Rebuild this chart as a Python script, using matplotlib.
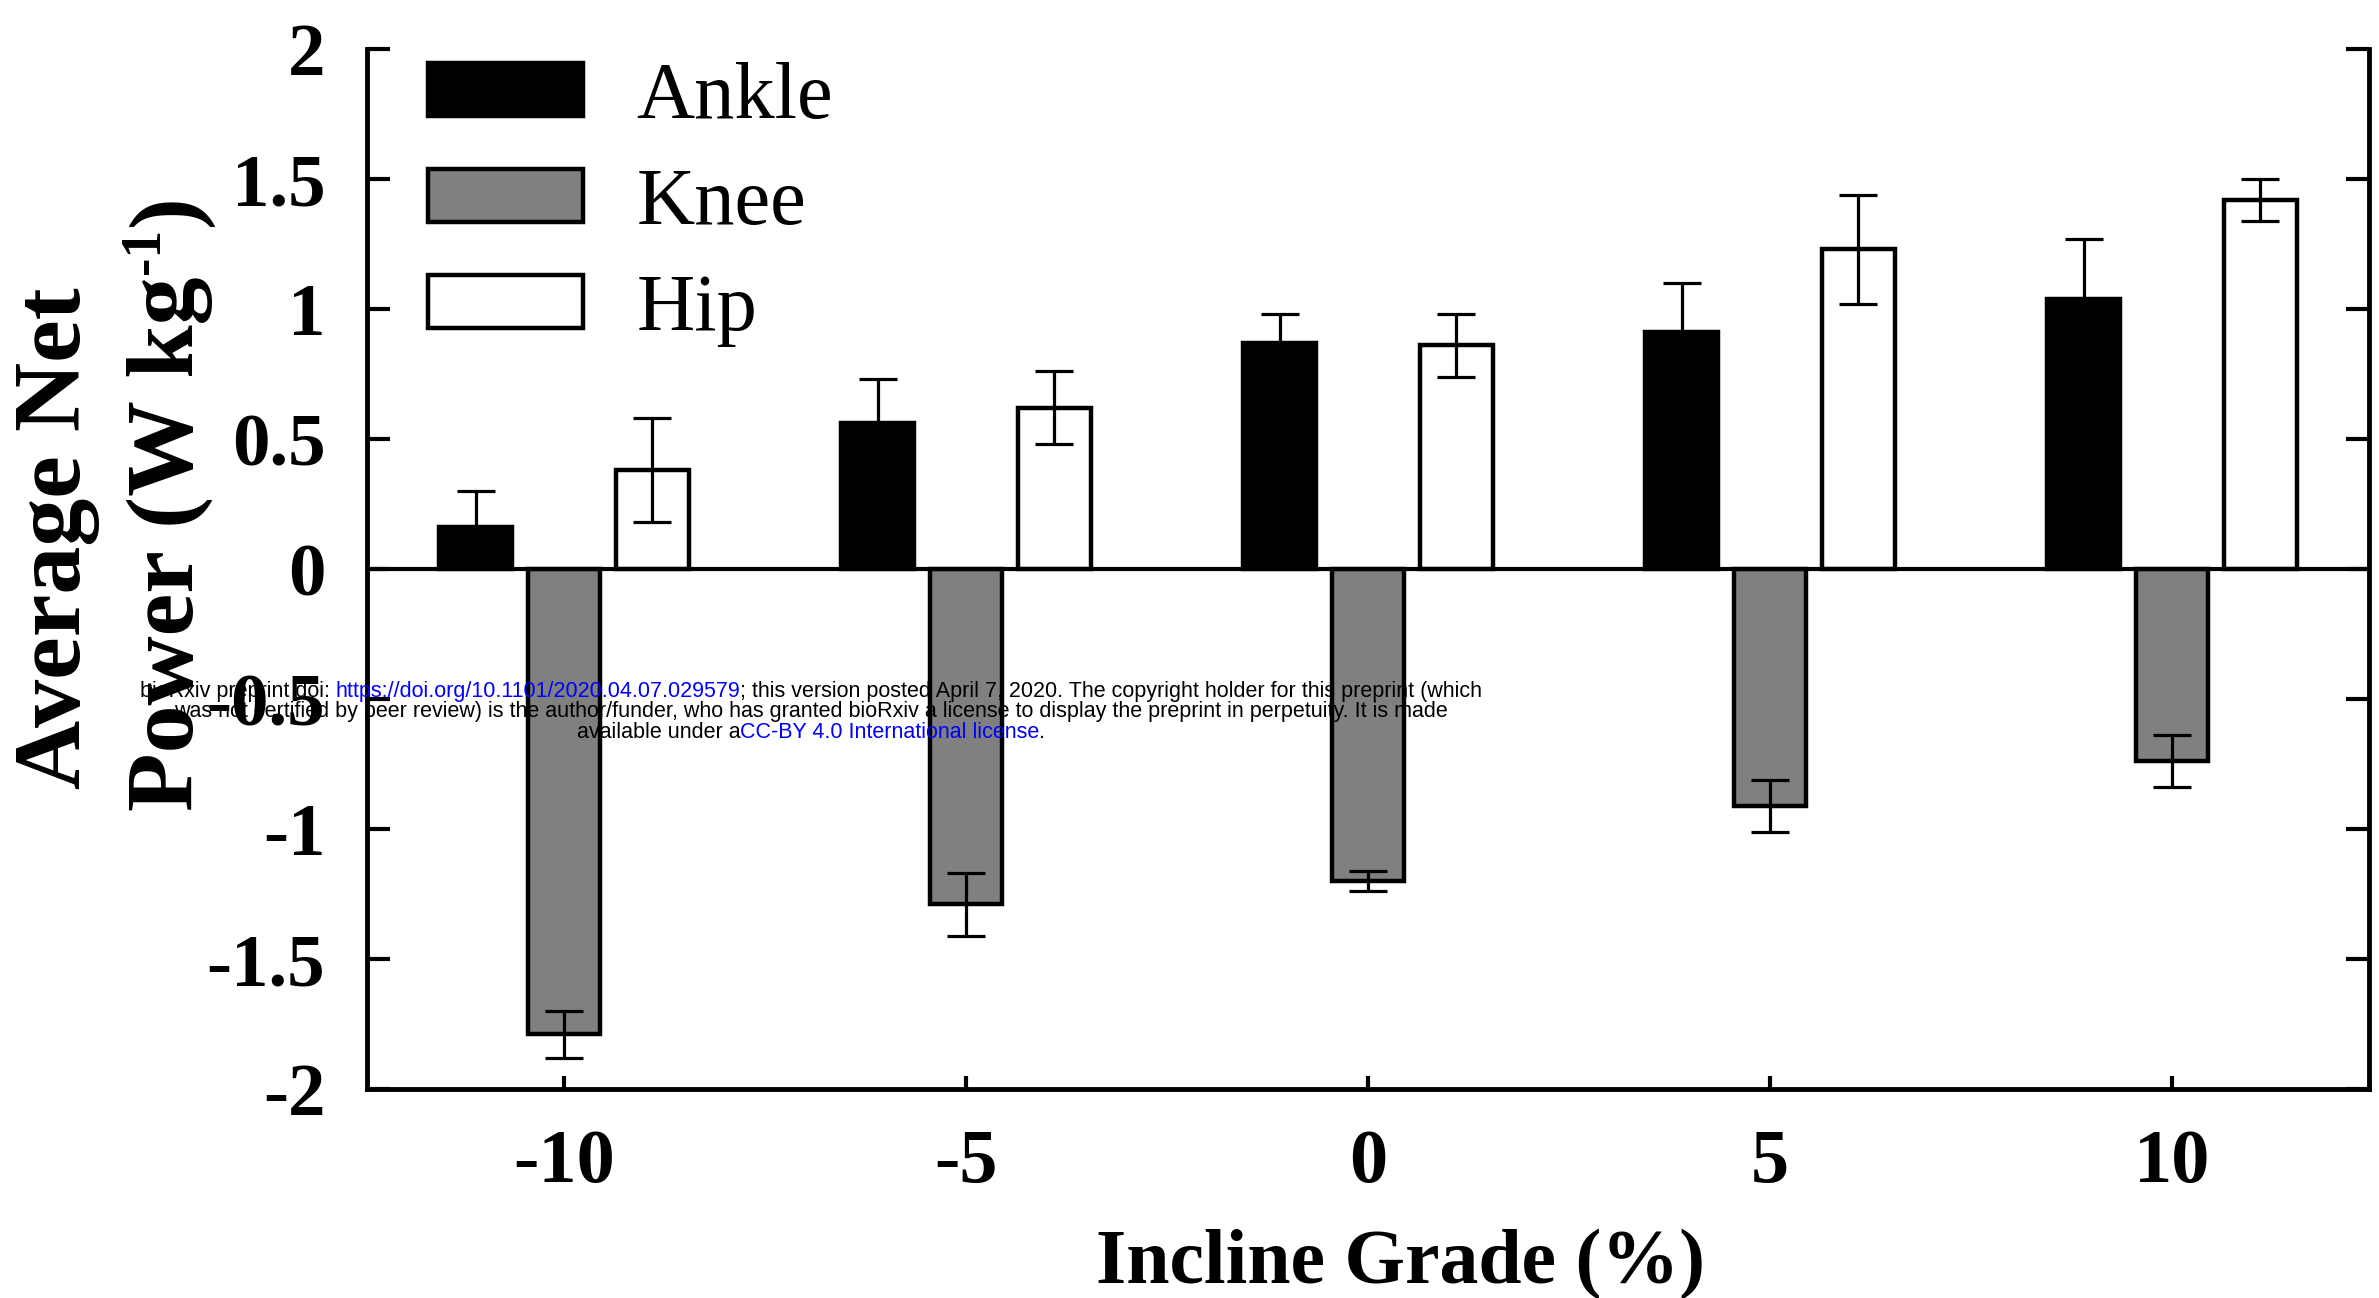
import matplotlib
matplotlib.use("Agg")
import matplotlib.pyplot as plt
import matplotlib.transforms as mtransforms
import numpy as np

plt.rcParams['font.family'] = 'Liberation Serif'
plt.rcParams['axes.unicode_minus'] = False

# incline grades (%)
grades = [-10, -5, 0, 5, 10]
joints = ['Ankle', 'Knee', 'Hip']

# average net joint power (W/kg) and SD
ankle = [0.16, 0.56, 0.87, 0.91, 1.04]
ankle_sd = [0.14, 0.17, 0.11, 0.19, 0.23]
knee = [-1.79, -1.29, -1.20, -0.91, -0.74]
knee_sd = [0.09, 0.12, 0.04, 0.10, 0.10]
hip = [0.38, 0.62, 0.86, 1.23, 1.42]
hip_sd = [0.20, 0.14, 0.12, 0.21, 0.08]

yticks = [-2, -1.5, -1, -0.5, 0, 0.5, 1, 1.5, 2]
ytick_labels = ['-2', '-1.5', '-1', '-0.5', '0', '0.5', '1', '1.5', '2']

fig = plt.figure(figsize=(23.79, 12.98), dpi=100)
ax = fig.add_axes([367 / 2379, 1 - 1089 / 1298, (2369 - 367) / 2379, (1089 - 49) / 1298])

x = np.array(grades, dtype=float)
w = 0.9
off = 1.1
lw = 3.2
series = [(ankle, ankle_sd, 'black', -off), (knee, knee_sd, '#808080', 0.0), (hip, hip_sd, 'white', off)]
for (vals, sd, col, dx), name in zip(series, joints):
    ax.bar(x + dx, vals, width=w, color=col, edgecolor='black', linewidth=lw, label=name, zorder=2)
    ax.errorbar(x + dx, vals, yerr=sd, fmt='none', ecolor='black', elinewidth=2.3,
                capsize=13.5, capthick=2.3, zorder=3)

ax.axhline(0, color='black', linewidth=3.0, zorder=4)

ax.set_xlim(-12.45, 12.45)
ax.set_ylim(-2, 2)
ax.set_xticks(grades)
ax.set_xticklabels([str(g) for g in grades])
ax.set_yticks(yticks)
ax.set_yticklabels(ytick_labels)

for side in ['left', 'bottom', 'right']:
    ax.spines[side].set_linewidth(3.5)
ax.spines['top'].set_visible(False)

ax.tick_params(axis='y', which='both', direction='in', length=16.5, width=3, right=True,
               labelright=False, pad=30, labelsize=54)
ax.tick_params(axis='x', direction='in', length=9.5, width=3, top=False, pad=29, labelsize=55)
for lab in ax.get_xticklabels() + ax.get_yticklabels():
    lab.set_fontweight('bold')

leg = ax.legend(loc='upper left', bbox_to_anchor=(0.0305, 0.9877), frameon=False,
                fontsize=58, handlelength=1.92, handleheight=0.63, handletextpad=0.67,
                labelspacing=0.41, borderpad=0, borderaxespad=0)

renderer = fig.canvas.get_renderer()
px = mtransforms.IdentityTransform()
ny = 1298

# y label: first line, then second line built from pieces so the superscript stays small
fig.text(80 / 2379, 1 - 538 / 1298, 'Average Net', rotation=90, rotation_mode='anchor',
         ha='center', va='baseline', fontsize=69, fontweight='bold')
base_x = 193
ypos = ny - 811
for s, size, dx in [('Power (W kg', 69, 0), ('-1', 40, -34), (')', 69, 0)]:
    t = fig.text(base_x + dx, ypos, s, rotation=90, rotation_mode='anchor', ha='left',
                 va='baseline', fontsize=size, fontweight='bold', transform=px)
    ypos += t.get_window_extent(renderer).height + 2

fig.text(1400 / 2379, 1 - 1283 / 1298, 'Incline Grade (%)', ha='center', va='baseline',
         fontsize=56, fontweight='bold')

# preprint notice, with the links in blue
notice = [
    [('bioRxiv preprint doi: ', 'black'), ('https://doi.org/10.1101/2020.04.07.029579', 'blue'),
     ('; this version posted April 7, 2020. The copyright holder for this preprint (which', 'black')],
    [('was not certified by peer review) is the author/funder, who has granted bioRxiv a license '
      'to display the preprint in perpetuity. It is made', 'black')],
    [('available under a', 'black'), ('CC-BY 4.0 International license', 'blue'), ('.', 'black')],
]
fs = 15.5


def text_width(s):
    t = fig.text(0, 0, s, fontsize=fs, family='Liberation Sans', transform=px)
    wd = t.get_window_extent(renderer).width
    t.remove()
    return wd


bar_w = text_width('|')
for i, line in enumerate(notice):
    yb = ny - (697 + i * 20.5)
    full = ''.join(s for s, _ in line)
    total = text_width(full)
    x0 = 811 - total / 2
    prefix = ''
    for s, col in line:
        xoff = text_width(prefix + '|') - bar_w if prefix else 0
        fig.text(x0 + xoff, yb, s, fontsize=fs, family='Liberation Sans', color=col,
                 transform=px, ha='left', va='baseline', zorder=10)
        prefix += s

fig.savefig('out.png', dpi=100)
